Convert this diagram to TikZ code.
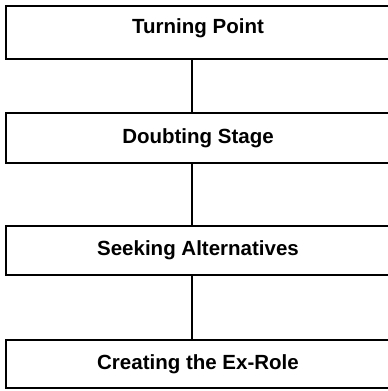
\documentclass[tikz,border=0pt]{standalone}
\usepackage{fontspec}
\setmainfont{Liberation Sans}
\usepackage{tikz}
\usetikzlibrary{positioning}

\begin{document}
\begin{tikzpicture}[
    x=1pt, y=1pt,
    stage/.style={draw, line width=2pt, minimum width=384pt, font=\fontsize{20.5}{24}\selectfont\bfseries, inner sep=0pt},
    link/.style={line width=2pt},
]
\useasboundingbox (0,0) rectangle (388,-391);

% first label rides a little high in its box
\node[stage, minimum height=53pt, text depth=12.5pt] (turn) at (198,-32.5) {Turning Point};
\node[stage, minimum height=50pt] (doubt) at (198,-138) {Doubting Stage};
\node[stage, minimum height=49pt] (seek) at (198,-250.5) {Seeking Alternatives};
\node[stage, minimum height=48pt] (exrole) at (198,-364) {Creating the Ex-Role};

% stage links sit a little left of centre
\draw[link] ([xshift=-6pt]turn.south) -- ([xshift=-6pt]doubt.north);
\draw[link] ([xshift=-6pt]doubt.south) -- ([xshift=-6pt]seek.north);
\draw[link] ([xshift=-6pt]seek.south) -- ([xshift=-6pt]exrole.north);
\end{tikzpicture}
\end{document}
